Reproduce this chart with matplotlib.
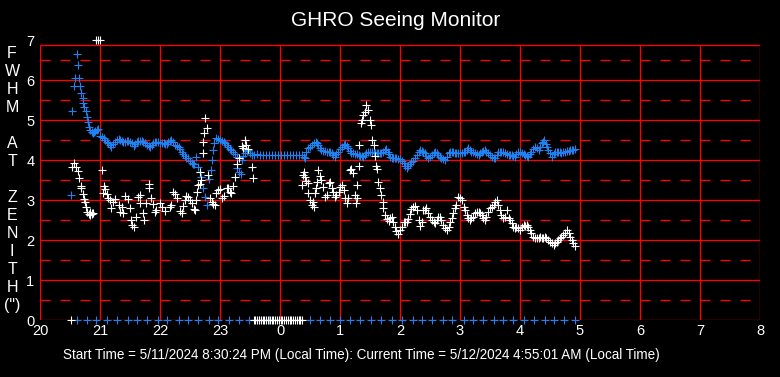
import matplotlib
matplotlib.use('Agg')
import matplotlib.pyplot as plt

# ---------------- data (hours since midnight of start day; 24 = 0h next day) -------------
x_labels = ['20', '21', '22', '23', '0', '1', '2', '3', '4', '5', '6', '7', '8']
x_ticks = [20, 21, 22, 23, 24, 25, 26, 27, 28, 29, 30, 31, 32]
y_ticks = [0, 1, 2, 3, 4, 5, 6, 7]
y_labels = ['0', '1', '2', '3', '4', '5', '6', '7']

blue_points = [
    (20.52, 3.12), (20.54, 5.22), (20.56, 5.85), (20.58, 6.06), (20.62, 6.65), (20.64, 6.38),
    (20.65, 6.04), (20.67, 5.85), (20.69, 5.68), (20.71, 5.54), (20.72, 5.42), (20.74, 5.33),
    (20.76, 5.22), (20.79, 5.07), (20.80, 4.96), (20.82, 4.83), (20.84, 4.75), (20.86, 4.70),
    (20.88, 4.68), (20.90, 4.70), (20.92, 4.72), (20.95, 4.74), (20.97, 4.77), (21.00, 4.60),
    (21.03, 4.58), (21.06, 4.54), (21.08, 4.50), (21.11, 4.46), (21.14, 4.42), (21.17, 4.375),
    (21.19, 4.33), (21.22, 4.40), (21.25, 4.46), (21.28, 4.50), (21.31, 4.52), (21.34, 4.49),
    (21.36, 4.475), (21.39, 4.46), (21.42, 4.46), (21.45, 4.47), (21.47, 4.48), (21.50, 4.46),
    (21.53, 4.42), (21.56, 4.35), (21.58, 4.40), (21.61, 4.46), (21.64, 4.47), (21.67, 4.475),
    (21.70, 4.47), (21.72, 4.46), (21.75, 4.42), (21.78, 4.375), (21.81, 4.35), (21.83, 4.33),
    (21.86, 4.38), (21.89, 4.42), (21.92, 4.45), (21.94, 4.46), (21.97, 4.44), (22.00, 4.43),
    (22.03, 4.43), (22.06, 4.42), (22.08, 4.41), (22.11, 4.40), (22.14, 4.44), (22.17, 4.48),
    (22.19, 4.50), (22.22, 4.44), (22.25, 4.375), (22.28, 4.35), (22.31, 4.32), (22.33, 4.27),
    (22.36, 4.21), (22.39, 4.15), (22.42, 4.10), (22.44, 4.05), (22.47, 4.04), (22.50, 3.98),
    (22.53, 3.93), (22.55, 3.91), (22.57, 3.90), (22.60, 4.08), (22.64, 3.83), (22.67, 3.71),
    (22.69, 3.58), (22.72, 3.29), (22.75, 3.08), (22.78, 2.875), (22.82, 3.52), (22.85, 3.75),
    (22.86, 4.00), (22.88, 4.25), (22.90, 4.42), (22.93, 4.54), (22.96, 4.53), (23.00, 4.50),
    (23.03, 4.48), (23.06, 4.46), (23.08, 4.42), (23.11, 4.375), (23.14, 4.33), (23.17, 4.27),
    (23.19, 4.24), (23.22, 4.21), (23.25, 4.15), (23.28, 4.08), (23.29, 3.79), (23.31, 3.71),
    (23.35, 3.65), (23.36, 4.00), (23.39, 4.10), (23.42, 4.17), (23.45, 4.22), (23.47, 4.25),
    (23.50, 4.18), (23.53, 4.125), (23.56, 4.13), (23.61, 4.15), (23.67, 4.125), (23.72, 4.125),
    (23.77, 4.125), (23.82, 4.125), (23.87, 4.125), (23.92, 4.125), (23.97, 4.125), (24.02, 4.125),
    (24.07, 4.125), (24.12, 4.125), (24.17, 4.125), (24.22, 4.125), (24.27, 4.125), (24.32, 4.125),
    (24.37, 4.125), (24.40, 4.08), (24.42, 4.05), (24.44, 4.21), (24.47, 4.29), (24.50, 4.33),
    (24.53, 4.38), (24.56, 4.42), (24.60, 4.46), (24.62, 4.42), (24.64, 4.375), (24.67, 4.30),
    (24.69, 4.25), (24.72, 4.23), (24.75, 4.22), (24.78, 4.21), (24.81, 4.21), (24.83, 4.21),
    (24.86, 4.17), (24.89, 4.125), (24.92, 4.08), (24.94, 4.15), (24.97, 4.21), (25.00, 4.27),
    (25.03, 4.33), (25.06, 4.37), (25.08, 4.40), (25.11, 4.35), (25.14, 4.29), (25.17, 4.23),
    (25.19, 4.18), (25.22, 4.17), (25.25, 4.16), (25.28, 4.15), (25.31, 4.12), (25.33, 4.10),
    (25.36, 4.09), (25.39, 4.08), (25.42, 4.13), (25.44, 4.17), (25.47, 4.19), (25.50, 4.20),
    (25.53, 4.21), (25.56, 4.19), (25.58, 4.18), (25.61, 4.17), (25.64, 4.17), (25.67, 4.18),
    (25.69, 4.18), (25.72, 4.21), (25.75, 4.25), (25.77, 4.27), (25.80, 4.20), (25.82, 4.15),
    (25.84, 4.08), (25.86, 4.04), (25.89, 4.04), (25.92, 4.04), (25.94, 4.04), (25.97, 4.03),
    (26.00, 4.02), (26.03, 3.97), (26.06, 3.92), (26.08, 3.85), (26.11, 3.79), (26.14, 3.85),
    (26.17, 3.90), (26.19, 3.94), (26.22, 3.98), (26.25, 4.05), (26.28, 4.125), (26.31, 4.19),
    (26.33, 4.25), (26.36, 4.23), (26.39, 4.21), (26.42, 4.17), (26.44, 4.10), (26.47, 4.04),
    (26.50, 4.08), (26.53, 4.125), (26.56, 4.17), (26.58, 4.21), (26.61, 4.17), (26.64, 4.125),
    (26.67, 4.08), (26.69, 4.04), (26.72, 4.02), (26.75, 4.00), (26.78, 4.08), (26.81, 4.17),
    (26.83, 4.19), (26.86, 4.21), (26.89, 4.20), (26.92, 4.18), (26.94, 4.17), (26.97, 4.17),
    (27.00, 4.17), (27.03, 4.17), (27.06, 4.19), (27.08, 4.21), (27.11, 4.25), (27.14, 4.29),
    (27.17, 4.25), (27.19, 4.21), (27.22, 4.19), (27.25, 4.17), (27.28, 4.15), (27.31, 4.125),
    (27.33, 4.17), (27.36, 4.21), (27.39, 4.23), (27.42, 4.25), (27.44, 4.21), (27.47, 4.17),
    (27.50, 4.12), (27.53, 4.08), (27.56, 4.06), (27.58, 4.04), (27.61, 4.12), (27.64, 4.21),
    (27.67, 4.21), (27.69, 4.21), (27.72, 4.19), (27.75, 4.17), (27.78, 4.15), (27.81, 4.125),
    (27.83, 4.125), (27.86, 4.125), (27.89, 4.10), (27.92, 4.08), (27.94, 4.15), (27.97, 4.21),
    (28.00, 4.19), (28.03, 4.17), (28.06, 4.15), (28.08, 4.125), (28.11, 4.10), (28.14, 4.08),
    (28.17, 4.15), (28.19, 4.21), (28.22, 4.27), (28.25, 4.33), (28.28, 4.29), (28.31, 4.25),
    (28.33, 4.33), (28.36, 4.42), (28.38, 4.46), (28.40, 4.50), (28.43, 4.40), (28.45, 4.33),
    (28.47, 4.25), (28.50, 4.17), (28.53, 4.08), (28.56, 4.15), (28.58, 4.21), (28.61, 4.21),
    (28.64, 4.21), (28.67, 4.19), (28.69, 4.17), (28.72, 4.19), (28.75, 4.21), (28.78, 4.22),
    (28.81, 4.23), (28.83, 4.24), (28.86, 4.25), (28.89, 4.26), (28.92, 4.27),
]

white_points = [
    (20.54, 3.82), (20.57, 3.93), (20.60, 3.83), (20.64, 3.73), (20.655, 3.54), (20.68, 3.35),
    (20.69, 3.29), (20.71, 3.15), (20.73, 3.02), (20.75, 2.96), (20.77, 2.82), (20.79, 2.71),
    (20.82, 2.65), (20.83, 2.62), (20.84, 2.70), (20.86, 2.68), (20.87, 2.64), (20.89, 2.67),
    (20.93, 7.0), (20.97, 7.0), (21.00, 7.0),
    (21.03, 3.75), (21.045, 3.17), (21.07, 3.35), (21.08, 3.27), (21.11, 3.15), (21.14, 3.04),
    (21.17, 3.00), (21.19, 2.79), (21.22, 2.96), (21.25, 3.02), (21.31, 2.875), (21.33, 2.71),
    (21.36, 2.83), (21.39, 2.67), (21.42, 3.10), (21.47, 3.02), (21.50, 2.79), (21.51, 2.50),
    (21.54, 2.375), (21.57, 2.33), (21.60, 2.58), (21.64, 3.08), (21.66, 2.92), (21.67, 3.125),
    (21.72, 2.67), (21.73, 2.50), (21.77, 2.92), (21.81, 3.29), (21.82, 3.40), (21.85, 3.04),
    (21.88, 2.90), (21.92, 2.71), (21.94, 2.75), (22.00, 2.92), (22.03, 2.83), (22.08, 2.73),
    (22.16, 2.83), (22.19, 2.875), (22.22, 3.21), (22.25, 3.15), (22.28, 3.05), (22.33, 2.72),
    (22.36, 2.67), (22.39, 2.85), (22.42, 3.00), (22.44, 3.10), (22.47, 3.08), (22.50, 3.00),
    (22.53, 2.92), (22.56, 2.77), (22.58, 2.75), (22.60, 3.00), (22.61, 3.21), (22.64, 3.375),
    (22.66, 3.40), (22.67, 3.71), (22.68, 3.50), (22.71, 4.17), (22.72, 4.46), (22.74, 4.67),
    (22.75, 5.04), (22.78, 4.79), (22.80, 3.62), (22.83, 3.04), (22.86, 2.96), (22.89, 2.90),
    (22.92, 2.875), (22.94, 3.17), (22.97, 3.24), (23.00, 3.27), (23.03, 3.04), (23.06, 3.10),
    (23.11, 3.31), (23.14, 3.30), (23.17, 3.19), (23.19, 3.18), (23.22, 3.36), (23.25, 3.58),
    (23.28, 3.90), (23.31, 4.06), (23.36, 4.35), (23.39, 4.29), (23.42, 4.51), (23.44, 4.38),
    (23.47, 4.27), (23.53, 3.83), (23.55, 3.54),
    (24.36, 3.375), (24.38, 3.625), (24.40, 3.71), (24.42, 3.57), (24.44, 3.47), (24.46, 3.42),
    (24.47, 3.17), (24.50, 3.00), (24.53, 2.875), (24.55, 2.96), (24.56, 2.83), (24.58, 3.17),
    (24.60, 3.29), (24.62, 3.46), (24.64, 3.75), (24.66, 3.60), (24.69, 3.50), (24.72, 3.33),
    (24.75, 3.08), (24.78, 3.125), (24.81, 3.42), (24.83, 3.46), (24.86, 3.29), (24.89, 3.21),
    (24.92, 3.08), (24.94, 3.125), (24.99, 3.21), (25.00, 3.33), (25.03, 3.375), (25.06, 3.25),
    (25.08, 3.04), (25.11, 2.92), (25.14, 3.04), (25.16, 3.75), (25.19, 3.77), (25.22, 3.67),
    (25.25, 3.125), (25.27, 2.92), (25.28, 3.04), (25.29, 3.375), (25.31, 3.85), (25.32, 4.375),
    (25.35, 4.92), (25.36, 5.00), (25.39, 5.125), (25.42, 5.19), (25.44, 5.375), (25.47, 5.25),
    (25.50, 5.00), (25.51, 4.875), (25.53, 4.50), (25.56, 4.375), (25.58, 4.10), (25.60, 3.85),
    (25.62, 3.77), (25.64, 3.46), (25.67, 3.29), (25.69, 3.125), (25.71, 2.96), (25.72, 2.79),
    (25.75, 2.625), (25.78, 2.52), (25.81, 2.48), (25.83, 2.56), (25.86, 2.57), (25.89, 2.46),
    (25.92, 2.33), (25.94, 2.23), (25.97, 2.16), (26.00, 2.25), (26.03, 2.33), (26.06, 2.46),
    (26.08, 2.46), (26.11, 2.44), (26.14, 2.52), (26.17, 2.64), (26.19, 2.77), (26.22, 2.83),
    (26.25, 2.84), (26.28, 2.75), (26.31, 2.51), (26.33, 2.35), (26.36, 2.44), (26.39, 2.75),
    (26.42, 2.75), (26.44, 2.79), (26.47, 2.67), (26.50, 2.58), (26.53, 2.50), (26.56, 2.46),
    (26.58, 2.42), (26.61, 2.50), (26.64, 2.58), (26.67, 2.58), (26.69, 2.50), (26.72, 2.375),
    (26.75, 2.29), (26.78, 2.25), (26.81, 2.33), (26.83, 2.46), (26.86, 2.54), (26.89, 2.67),
    (26.92, 2.79), (26.94, 2.875), (26.97, 3.08), (27.00, 3.04), (27.03, 3.00), (27.06, 2.83),
    (27.08, 2.75), (27.11, 2.625), (27.14, 2.54), (27.17, 2.50), (27.19, 2.54), (27.22, 2.58),
    (27.25, 2.67), (27.28, 2.71), (27.31, 2.71), (27.33, 2.67), (27.36, 2.625), (27.39, 2.54),
    (27.42, 2.50), (27.44, 2.58), (27.47, 2.71), (27.50, 2.79), (27.53, 2.83), (27.56, 2.875),
    (27.58, 2.96), (27.61, 3.00), (27.64, 2.875), (27.67, 2.75), (27.69, 2.625), (27.72, 2.54),
    (27.75, 2.58), (27.78, 2.75), (27.81, 2.54), (27.83, 2.50), (27.86, 2.42), (27.89, 2.33),
    (27.92, 2.29), (27.94, 2.33), (27.97, 2.29), (28.00, 2.25), (28.03, 2.33), (28.06, 2.375),
    (28.08, 2.35), (28.11, 2.375), (28.14, 2.33), (28.17, 2.25), (28.19, 2.17), (28.22, 2.08),
    (28.25, 2.04), (28.28, 2.04), (28.31, 2.04), (28.33, 2.08), (28.36, 2.04), (28.39, 2.04),
    (28.42, 2.08), (28.44, 2.04), (28.47, 2.00), (28.50, 1.96), (28.53, 1.92), (28.56, 1.875),
    (28.58, 1.92), (28.61, 1.96), (28.64, 2.00), (28.67, 2.04), (28.69, 2.08), (28.72, 2.125),
    (28.75, 2.17), (28.78, 2.25), (28.81, 2.17), (28.83, 2.08), (28.86, 2.00), (28.89, 1.92),
    (28.92, 1.85),
]

# readings of zero (no measurement) along the bottom
blue_zero_times = [
    20.61, 20.78, 20.94, 21.11, 21.29, 21.46, 21.62, 21.79, 21.96, 22.12, 22.31, 22.47,
    22.64, 22.81, 22.97, 23.15, 23.32, 23.49, 23.65, 23.82, 23.99, 24.16, 24.33, 24.50,
    24.67, 24.83, 25.00, 25.17, 25.34, 25.51, 25.69, 25.86, 26.03, 26.21, 26.37, 26.54,
    26.71, 26.87, 27.06, 27.22, 27.39, 27.56, 27.72, 27.89, 28.07, 28.24, 28.41, 28.57,
    28.74, 28.92,
]
white_zero_times = [
    20.52, 23.56, 23.59, 23.62, 23.65, 23.68, 23.71, 23.74, 23.77, 23.80, 23.83, 23.86,
    23.89, 23.92, 23.95, 23.98, 24.01, 24.04, 24.07, 24.10, 24.13, 24.16, 24.19, 24.22,
    24.25, 24.28, 24.31, 24.34, 24.36,
]

title = 'GHRO Seeing Monitor'
ylabel_chars = ['F', 'W', 'H', 'M', '', 'A', 'T', '', 'Z', 'E', 'N', 'I', 'T', 'H', '(")']
footer = ('Start Time = 5/11/2024 8:30:24 PM (Local Time): '
          'Current Time = 5/12/2024 4:55:01 AM (Local Time)')

# ---------------- styling ----------------
BLUE = '#1f82f0'
RED = '#ff0000'
FONT = ['Liberation Sans', 'DejaVu Sans']

W, H = 780, 377
fig = plt.figure(figsize=(W / 100, H / 100), dpi=100, facecolor='black')
ax = fig.add_axes([40 / W, 57 / H, 720 / W, 280 / H])
ax.set_facecolor('black')
ax.set_xlim(x_ticks[0], x_ticks[-1])
ax.set_ylim(0, 7)
for s in ax.spines.values():
    s.set_visible(False)

top_line = 6.875
solid_levels = [0, 1, 2, 3, 4, 5, 6, top_line]
dash_levels = [0.5, 1.5, 2.5, 3.5, 4.5, 5.5, 6.5]
LW = 0.95
ax.hlines(solid_levels, x_ticks[0], x_ticks[-1], colors=RED, linewidth=LW,
          snap=True, zorder=1)
ax.hlines(dash_levels, x_ticks[0], x_ticks[-1], colors=RED, linewidth=LW,
          linestyles=[(0, (7.2 / LW, 7.2 / LW))], snap=True, zorder=1)
ax.vlines(x_ticks, 0, top_line, colors=RED, linewidth=LW, snap=True, zorder=1)

mk = dict(linestyle='none', marker='+', markersize=5.4, markeredgewidth=0.8, clip_on=False)
bt = [p[0] for p in blue_points]
bv = [p[1] for p in blue_points]
wt = [p[0] for p in white_points]
wv = [p[1] for p in white_points]
ax.plot(bt, bv, color=BLUE, zorder=3, **mk)
ax.plot(blue_zero_times, [0] * len(blue_zero_times), color=BLUE, zorder=3, **mk)
ax.plot(wt, wv, color='white', zorder=4, **mk)
ax.plot(white_zero_times, [0] * len(white_zero_times), color='white', zorder=4, **mk)

ax.set_xticks(x_ticks)
ax.set_xticklabels(x_labels, fontfamily=FONT, fontsize=10.5)
ax.set_yticks(y_ticks)
ax.set_yticklabels(y_labels, fontfamily=FONT, fontsize=10.5)
ax.tick_params(axis='x', length=0, colors='white', pad=3)
ax.tick_params(axis='y', length=0, colors='white', pad=4)

fig.text(396 / W, 1 - 20 / H, title, ha='center', va='center', color='white',
         fontsize=15, fontfamily=FONT)
for i, ch in enumerate(ylabel_chars):
    if ch:
        fig.text(12 / W, 1 - (53.5 + 18 * i) / H, ch, ha='center', va='center',
                 color='white', fontsize=11.5, fontfamily=FONT)
fig.text(63 / W, 1 - 355 / H, footer, ha='left', va='center', color='white',
         fontsize=9.75, fontfamily=FONT)

fig.savefig('out.png', dpi=100, facecolor='black')
